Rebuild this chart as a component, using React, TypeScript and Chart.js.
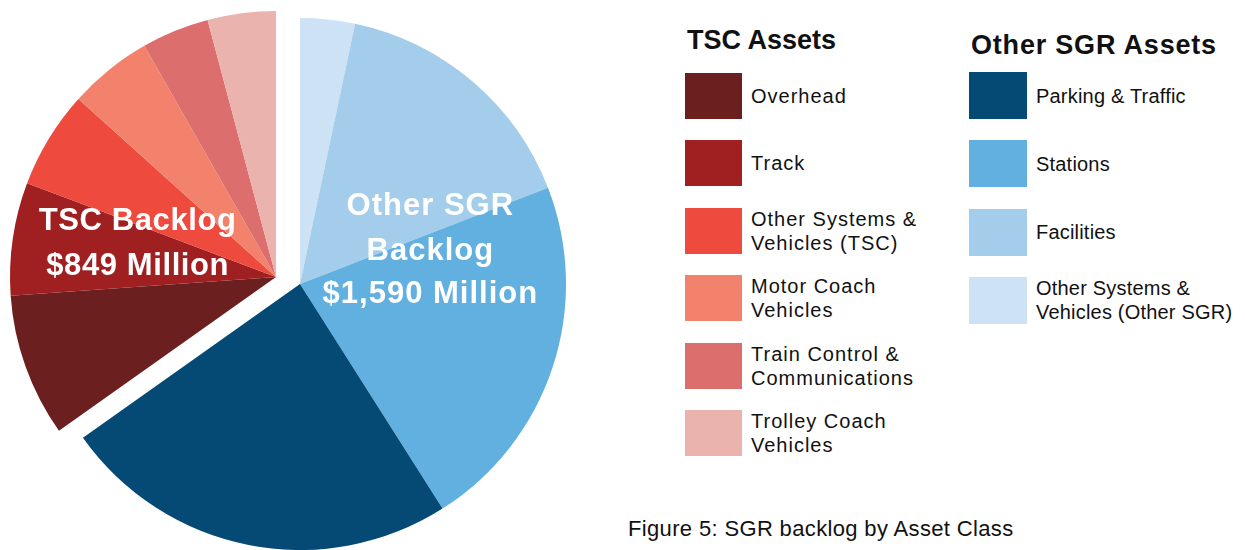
import React, { useEffect, useRef } from "react";
import { Chart, registerables } from "chart.js";

Chart.register(...registerables);

// TSC assets (listed clockwise, after the Other SGR group)
const tscLabels = [
  "Overhead",
  "Track",
  "Other Systems &\nVehicles (TSC)",
  "Motor Coach\nVehicles",
  "Train Control &\nCommunications",
  "Trolley Coach\nVehicles",
];
const tscValues = [212, 167, 145, 124, 100, 101]; // $ million, total 849
const tscColors = ["#6B1F1F", "#A01F21", "#EE4A3E", "#F2826B", "#DC6E6E", "#EBB3AE"];

// Other SGR assets
const sgrLabels = ["Parking & Traffic", "Stations", "Facilities", "Other Systems &\nVehicles (Other SGR)"];
const sgrValues = [590, 534, 385, 81]; // $ million, total 1,590
const sgrColors = ["#044A74", "#62B0E0", "#A3CDEB", "#CDE2F5"];

const tscTitle = "TSC Assets";
const sgrTitle = "Other SGR Assets";
const tscPieText = ["TSC Backlog", "$849 Million"];
const sgrPieText = ["Other SGR", "Backlog", "$1,590 Million"];
const caption = "Figure 5: SGR backlog by Asset Class";

const SANS = '"Liberation Sans", Arial, Helvetica, sans-serif';

// pie order: clockwise from 12 o'clock
const pieLabels = [...sgrLabels].reverse().concat(tscLabels).map((s) => s.replace("\n", " "));
const pieValues = [...sgrValues].reverse().concat(tscValues);
const pieColors = [...sgrColors].reverse().concat(tscColors);
const nSgr = sgrValues.length;

const groupOffset = {
  id: "groupOffset",
  afterDatasetsUpdate(chart: any) {
    const meta = chart.getDatasetMeta(0);
    meta.data.forEach((arc: any, i: number) => {
      if (i >= nSgr) {
        arc.x += -24;
        arc.y += -7;
      }
    });
  },
};

const pieText = {
  id: "pieText",
  afterDatasetsDraw(chart: any) {
    const meta = chart.getDatasetMeta(0);
    const s = meta.data[0];
    const t = meta.data[nSgr];
    const r = s.outerRadius;
    const ctx = chart.ctx;
    ctx.save();
    ctx.fillStyle = "#ffffff";
    ctx.font = `bold 31px ${SANS}`;
    (ctx as any).letterSpacing = "0.6px";
    ctx.textAlign = "center";
    ctx.textBaseline = "middle";
    const tOff = [-0.21, -0.038];
    tscPieText.forEach((line, i) => ctx.fillText(line, t.x - 0.52 * r, t.y + tOff[i] * r));
    (ctx as any).letterSpacing = "1px";
    const sOff = [-0.29, -0.124, 0.041];
    sgrPieText.forEach((line, i) => ctx.fillText(line, s.x + 0.49 * r, s.y + sOff[i] * r));
    ctx.restore();
  },
};

function LegendColumn(props: {
  title: string;
  labels: string[];
  colors: string[];
  left: number;
  top: number;
  titleTop: number;
  titleSpacing: string;
  step: number;
  w: number;
  h: number;
  spacing: string;
}) {
  const { title, labels, colors, left, top, titleTop, titleSpacing, step, w, h, spacing } = props;
  return (
    <>
      <div
        style={{
          position: "absolute",
          left: left + 2,
          top: titleTop,
          font: `bold 27px ${SANS}`,
          letterSpacing: titleSpacing,
          lineHeight: "27px",
          color: "#111",
          whiteSpace: "nowrap",
        }}
      >
        {title}
      </div>
      {labels.map((lab, i) => (
        <div key={i} style={{ position: "absolute", left, top: top + i * step, height: h, display: "flex", alignItems: "center" }}>
          <div style={{ width: w, height: h, background: colors[i], flex: "none" }} />
          <div
            style={{
              marginLeft: 9,
              font: `20px ${SANS}`,
              letterSpacing: spacing,
              lineHeight: "24px",
              whiteSpace: "pre",
              color: "#111",
            }}
          >
            {lab}
          </div>
        </div>
      ))}
    </>
  );
}

export default function App() {
  const ref = useRef<HTMLCanvasElement>(null);
  useEffect(() => {
    if (!ref.current) return;
    const chart = new Chart(ref.current, {
      type: "pie",
      data: {
        labels: pieLabels,
        datasets: [{ data: pieValues, backgroundColor: pieColors, borderWidth: 0 }],
      },
      options: {
        responsive: false,
        animation: false,
        events: [],
        layout: { padding: { left: 34, right: 34, top: 18, bottom: 0 } },
        plugins: { legend: { display: false }, tooltip: { enabled: false } },
      },
      plugins: [groupOffset, pieText],
    });
    return () => chart.destroy();
  }, []);

  return (
    <div style={{ position: "fixed", left: 0, top: 0, width: 1245, height: 550, background: "#fff", overflow: "hidden" }}>
      <canvas ref={ref} width={600} height={550} style={{ position: "absolute", left: 0, top: 0, width: 600, height: 550 }} />
      <LegendColumn title={tscTitle} labels={tscLabels} colors={tscColors} left={685} top={73} titleTop={27} titleSpacing="0px" step={67.4} w={57} h={46} spacing="1px" />
      <LegendColumn title={sgrTitle} labels={sgrLabels} colors={sgrColors} left={969} top={72} titleTop={32} titleSpacing="0.8px" step={68.3} w={58} h={47} spacing="0.2px" />
      <div
        style={{
          position: "absolute",
          left: 628,
          top: 516,
          font: `22px ${SANS}`,
          letterSpacing: "0.35px",
          color: "#111",
          whiteSpace: "nowrap",
        }}
      >
        {caption}
      </div>
    </div>
  );
}
